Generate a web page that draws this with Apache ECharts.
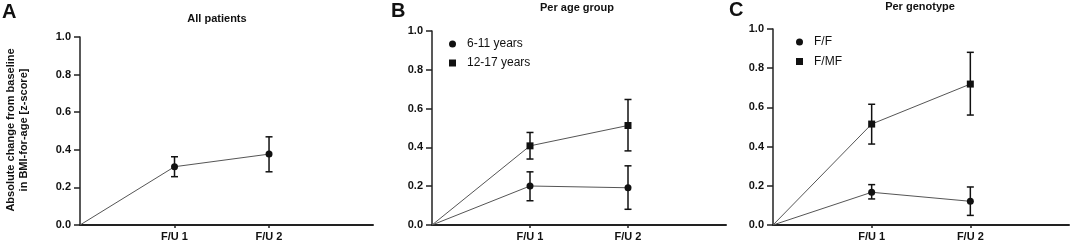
<!DOCTYPE html>
<html>
<head>
<meta charset="utf-8">
<script src="https://cdn.jsdelivr.net/npm/echarts@6/dist/echarts.min.js"></script>
<style>
  html, body { margin: 0; padding: 0; background: #fff; }
  #chart { width: 1072px; height: 242px; }
</style>
</head>
<body>
<div id="chart"></div>
<script>
// visits: baseline (0), F/U 1, F/U 2
const visits = [0, 1, 2];
const visitLabels = ['', 'F/U 1', 'F/U 2'];

// A: all patients
const allMean = [0, 0.31, 0.377];
const allLow = [null, 0.257, 0.283];
const allHigh = [null, 0.363, 0.469];

// B: per age group
const age611Mean = [0, 0.201, 0.192];
const age611Low = [null, 0.125, 0.081];
const age611High = [null, 0.274, 0.305];
const age1217Mean = [0, 0.408, 0.513];
const age1217Low = [null, 0.340, 0.382];
const age1217High = [null, 0.477, 0.647];

// C: per genotype
const ffMean = [0, 0.167, 0.121];
const ffLow = [null, 0.133, 0.049];
const ffHigh = [null, 0.206, 0.194];
const fmfMean = [0, 0.515, 0.719];
const fmfLow = [null, 0.413, 0.561];
const fmfHigh = [null, 0.616, 0.881];

const FONT = '"Liberation Sans", Arial, sans-serif';
const INK = '#111';

const chart = echarts.init(document.getElementById('chart'), null, { renderer: 'canvas' });

function lineData(mean) {
  return visits.map((v, i) => i === 0 ? { value: [v, mean[i]], symbol: 'none' } : [v, mean[i]]);
}
function errData(low, high) {
  const out = [];
  visits.forEach((v, i) => { if (low[i] != null) out.push([v, low[i], high[i]]); });
  return out;
}
function lineSeries(name, idx, mean, symbol) {
  return {
    name: name, type: 'line', xAxisIndex: idx, yAxisIndex: idx,
    data: lineData(mean), symbol: symbol, symbolSize: 7,
    itemStyle: { color: INK },
    lineStyle: { color: '#555', width: 1 },
    emphasis: { disabled: true }, animation: false, z: 3
  };
}
function errSeries(idx, low, high) {
  return {
    type: 'custom', xAxisIndex: idx, yAxisIndex: idx, animation: false, z: 2,
    data: errData(low, high),
    renderItem: function (params, api) {
      const top = api.coord([api.value(0), api.value(2)]);
      const bot = api.coord([api.value(0), api.value(1)]);
      const w = 3.5;
      const st = { stroke: INK, lineWidth: 1.5 };
      return {
        type: 'group',
        children: [
          { type: 'line', shape: { x1: top[0], y1: top[1], x2: bot[0], y2: bot[1] }, style: st },
          { type: 'line', shape: { x1: top[0] - w, y1: top[1], x2: top[0] + w, y2: top[1] }, style: st },
          { type: 'line', shape: { x1: bot[0] - w, y1: bot[1], x2: bot[0] + w, y2: bot[1] }, style: st }
        ]
      };
    }
  };
}

const grids = [
  { left: 80, top: 37, width: 293, height: 188 },
  { left: 432, top: 31, width: 294, height: 194 },
  { left: 773, top: 29, width: 296, height: 196 }
];
const xMax = [3.1, 3, 3];

const legendText = { fontSize: 12, color: INK, fontFamily: FONT, padding: [0, 0, 0, 6], lineHeight: 14 };

const option = {
  backgroundColor: '#fff',
  animation: false,
  textStyle: { fontFamily: FONT },
  grid: grids,
  xAxis: grids.map((g, i) => ({
    type: 'value', gridIndex: i, min: 0, max: xMax[i],
    splitLine: { show: false },
    axisLine: { lineStyle: { color: '#222', width: 2 } },
    axisTick: { customValues: [1, 2], length: 3, lineStyle: { color: '#222', width: 1.5 } },
    axisLabel: {
      customValues: [1, 2], margin: 6,
      formatter: v => visitLabels[Math.round(v)] || '',
      color: INK, fontWeight: 'bold', fontSize: 11, fontFamily: FONT
    }
  })),
  yAxis: grids.map((g, i) => ({
    type: 'value', gridIndex: i, min: 0, max: 1, interval: 0.2,
    splitLine: { show: false },
    axisLine: { show: true, lineStyle: { color: '#222', width: 1.5 } },
    axisTick: { show: true, length: 6, lineStyle: { color: '#222', width: 1.5 } },
    axisLabel: {
      margin: 9, color: INK, fontWeight: 'bold', fontSize: 11, fontFamily: FONT,
      formatter: v => v.toFixed(1)
    }
  })),
  legend: [
    {
      data: [{ name: '6-11 years', icon: 'circle' }, { name: '12-17 years', icon: 'rect' }],
      orient: 'vertical', left: 449, top: 37, padding: 0,
      itemWidth: 7, itemHeight: 7, itemGap: 5, selectedMode: false,
      textStyle: legendText
    },
    {
      data: [{ name: 'F/F', icon: 'circle' }, { name: 'F/MF', icon: 'rect' }],
      orient: 'vertical', left: 796, top: 35, padding: 0,
      itemWidth: 7, itemHeight: 7, itemGap: 5.5, selectedMode: false,
      textStyle: legendText
    }
  ],
  graphic: [
    { type: 'text', left: 2, top: 2, style: { text: 'A', font: 'bold 20px ' + FONT, fill: INK } },
    { type: 'text', left: 391, top: 1, style: { text: 'B', font: 'bold 20px ' + FONT, fill: INK } },
    { type: 'text', left: 729, top: 0, style: { text: 'C', font: 'bold 20px ' + FONT, fill: INK } },
    { type: 'text', x: 217, y: 19, style: { text: 'All patients', font: 'bold 11px ' + FONT, fill: INK, align: 'center', verticalAlign: 'middle' } },
    { type: 'text', x: 577, y: 8, style: { text: 'Per age group', font: 'bold 11px ' + FONT, fill: INK, align: 'center', verticalAlign: 'middle' } },
    { type: 'text', x: 920, y: 7, style: { text: 'Per genotype', font: 'bold 11px ' + FONT, fill: INK, align: 'center', verticalAlign: 'middle' } },
    {
      type: 'text', x: 17, y: 130, rotation: Math.PI / 2,
      style: {
        text: 'Absolute change from baseline\nin BMI-for-age [z-score]',
        font: 'bold 11px ' + FONT, fill: INK, align: 'center', verticalAlign: 'middle', lineHeight: 13
      }
    }
  ],
  series: [
    errSeries(0, allLow, allHigh),
    lineSeries('All patients', 0, allMean, 'circle'),
    errSeries(1, age611Low, age611High),
    errSeries(1, age1217Low, age1217High),
    lineSeries('6-11 years', 1, age611Mean, 'circle'),
    lineSeries('12-17 years', 1, age1217Mean, 'rect'),
    errSeries(2, ffLow, ffHigh),
    errSeries(2, fmfLow, fmfHigh),
    lineSeries('F/F', 2, ffMean, 'circle'),
    lineSeries('F/MF', 2, fmfMean, 'rect')
  ]
};

chart.setOption(option);
</script>
</body>
</html>
